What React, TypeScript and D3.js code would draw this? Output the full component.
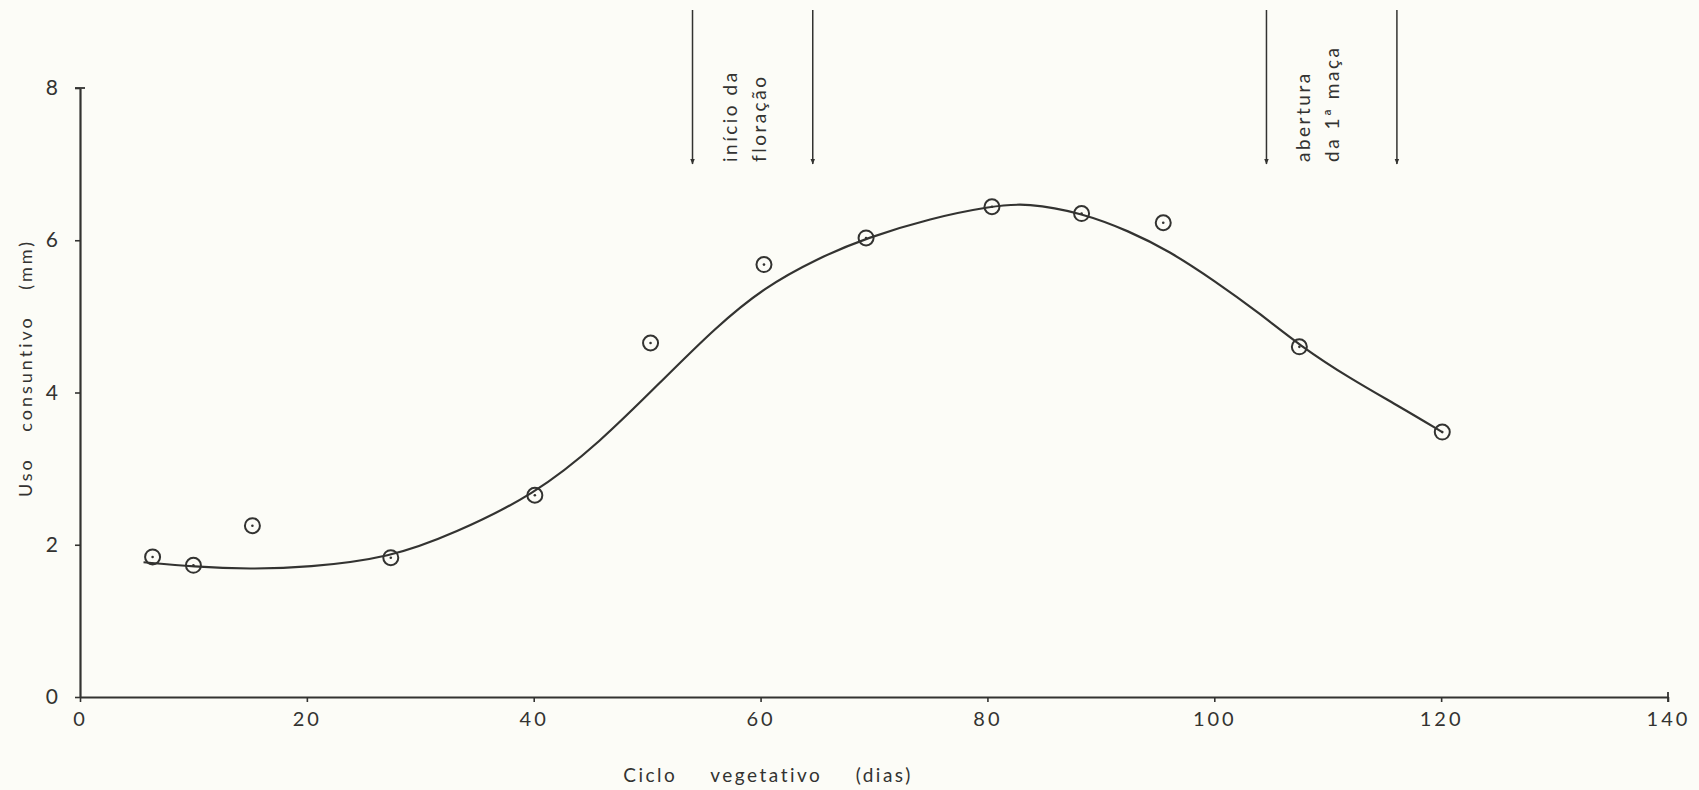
import React, { useRef, useEffect } from 'react';
import * as d3 from 'd3';

// observed points (ciclo vegetativo, dias x uso consuntivo, mm)
const days = [6.4, 10, 15.2, 27.4, 40.1, 50.3, 60.3, 69.3, 80.4, 88.3, 95.5, 107.5, 120.1];
const usoMm = [1.84, 1.73, 2.25, 1.83, 2.65, 4.65, 5.68, 6.03, 6.44, 6.35, 6.23, 4.6, 3.48];

// fitted curve
const curveDays = [5.6, 10, 15, 20, 27.4, 33, 40, 45.8, 51.4, 56, 60.3, 65, 69.3, 75, 80.4, 83.5, 88.3, 92.5, 96, 100, 104, 107.5, 112, 116.4, 120.1];
const curveUso = [1.77, 1.71, 1.68, 1.7, 1.83, 2.15, 2.65, 3.34, 4.17, 4.85, 5.38, 5.76, 6.03, 6.29, 6.45, 6.49, 6.36, 6.12, 5.86, 5.47, 5.04, 4.62, 4.18, 3.81, 3.48];

const xTicks = [0, 20, 40, 60, 80, 100, 120, 140];
const yTicks = [0, 2, 4, 6, 8];

// phenological stages marked with arrows
const stageDays = [[54, 64.6], [104.6, 116.1]];
const stageLabels = [['início  da', 'floração'], ['abertura', 'da  1ª  maça']];

const INK = '#333331';
const FONT = 'Lato, "Open Sans", sans-serif';

const Chart = () => {
  const ref = useRef(null);

  useEffect(() => {
    const width = 1699;
    const height = 790;
    const svg = d3.select(ref.current).attr('width', width).attr('height', height);
    svg.selectAll('*').remove();

    svg.append('rect').attr('width', width).attr('height', height).attr('fill', '#fcfcf7');

    const x = d3.scaleLinear().domain([0, 140]).range([80, 1668]);
    const y = d3.scaleLinear().domain([0, 8]).range([697, 88]);

    const defs = svg.append('defs');
    defs.append('marker')
      .attr('id', 'arrowhead')
      .attr('viewBox', '0 0 10 10')
      .attr('refX', 9).attr('refY', 5)
      .attr('markerWidth', 6).attr('markerHeight', 9)
      .attr('markerUnits', 'userSpaceOnUse')
      .attr('orient', 'auto')
      .append('path')
      .attr('d', 'M0,1 L10,5 L0,9 Z')
      .attr('fill', INK);

    // x axis
    const gx = svg.append('g')
      .attr('transform', `translate(0,${y(0)})`)
      .call(d3.axisBottom(x).tickValues(xTicks).tickSize(5).tickPadding(10).tickSizeOuter(0));
    gx.select('.domain').attr('stroke', INK).attr('stroke-width', 2.2);
    gx.selectAll('.tick line').attr('stroke', INK).attr('stroke-width', 1.6);
    gx.selectAll('.tick text')
      .attr('fill', INK)
      .style('font-family', FONT)
      .style('font-size', '20px')
      .style('letter-spacing', '3px');
    // end cap at 140
    gx.append('line')
      .attr('x1', x(140)).attr('x2', x(140))
      .attr('y1', -5).attr('y2', 5)
      .attr('stroke', INK).attr('stroke-width', 1.8);

    // y axis
    const gy = svg.append('g')
      .attr('transform', `translate(${x(0)},0)`)
      .call(d3.axisLeft(y).tickValues(yTicks).tickSize(5).tickPadding(17).tickSizeOuter(0));
    gy.select('.domain').attr('stroke', INK).attr('stroke-width', 2.2);
    gy.selectAll('.tick line').attr('stroke', INK).attr('stroke-width', 1.6);
    gy.selectAll('.tick text')
      .attr('fill', INK)
      .style('font-family', FONT)
      .style('font-size', '21px');
    // cap at 8
    gy.append('line')
      .attr('x1', -5).attr('x2', 5)
      .attr('y1', y(8)).attr('y2', y(8))
      .attr('stroke', INK).attr('stroke-width', 1.8);

    // axis titles
    svg.append('text')
      .attr('x', 768).attr('y', 782)
      .attr('text-anchor', 'middle')
      .attr('fill', INK)
      .style('font-family', FONT)
      .style('font-size', '19px')
      .style('letter-spacing', '2.5px')
      .style('word-spacing', '26px')
      .text('Ciclo vegetativo (dias)');

    svg.append('text')
      .attr('transform', 'translate(32,368) rotate(-90)')
      .attr('text-anchor', 'middle')
      .attr('fill', INK)
      .style('font-family', FONT)
      .style('font-size', '18px')
      .style('letter-spacing', '3px')
      .style('word-spacing', '18px')
      .text('Uso consuntivo (mm)');

    // stage arrows and labels
    stageDays.forEach((pair, i) => {
      pair.forEach(d => {
        svg.append('line')
          .attr('x1', x(d)).attr('x2', x(d))
          .attr('y1', 10).attr('y2', 164)
          .attr('stroke', INK).attr('stroke-width', 1.5)
          .attr('marker-end', 'url(#arrowhead)');
      });
      stageLabels[i].forEach((t, j) => {
        svg.append('text')
          .attr('transform', `translate(${x(pair[0]) + 44 + j * 29},162) rotate(-90)`)
          .attr('fill', INK)
          .style('font-family', FONT)
          .style('font-size', '19px')
          .style('letter-spacing', '2.5px')
          .text(t);
      });
    });

    // fitted curve
    const curvePts = curveDays.map((d, i) => [d, curveUso[i]]);
    const line = d3.line()
      .x(d => x(d[0]))
      .y(d => y(d[1]))
      .curve(d3.curveBasis);
    svg.append('path')
      .datum(curvePts)
      .attr('d', line)
      .attr('fill', 'none')
      .attr('stroke', INK)
      .attr('stroke-width', 2.2);

    // observed points: circle with a centre dot
    const pts = days.map((d, i) => ({ d, v: usoMm[i] }));
    const g = svg.append('g');
    g.selectAll('circle.ring')
      .data(pts)
      .enter().append('circle')
      .attr('class', 'ring')
      .attr('cx', p => x(p.d))
      .attr('cy', p => y(p.v))
      .attr('r', 7.5)
      .attr('fill', 'none')
      .attr('stroke', INK)
      .attr('stroke-width', 2);
    g.selectAll('circle.dot')
      .data(pts)
      .enter().append('circle')
      .attr('class', 'dot')
      .attr('cx', p => x(p.d))
      .attr('cy', p => y(p.v))
      .attr('r', 1.3)
      .attr('fill', INK);
  }, []);

  return <svg ref={ref} style={{ position: 'absolute', left: 0, top: 0, display: 'block' }} />;
};

export default function App() {
  return <Chart />;
}
